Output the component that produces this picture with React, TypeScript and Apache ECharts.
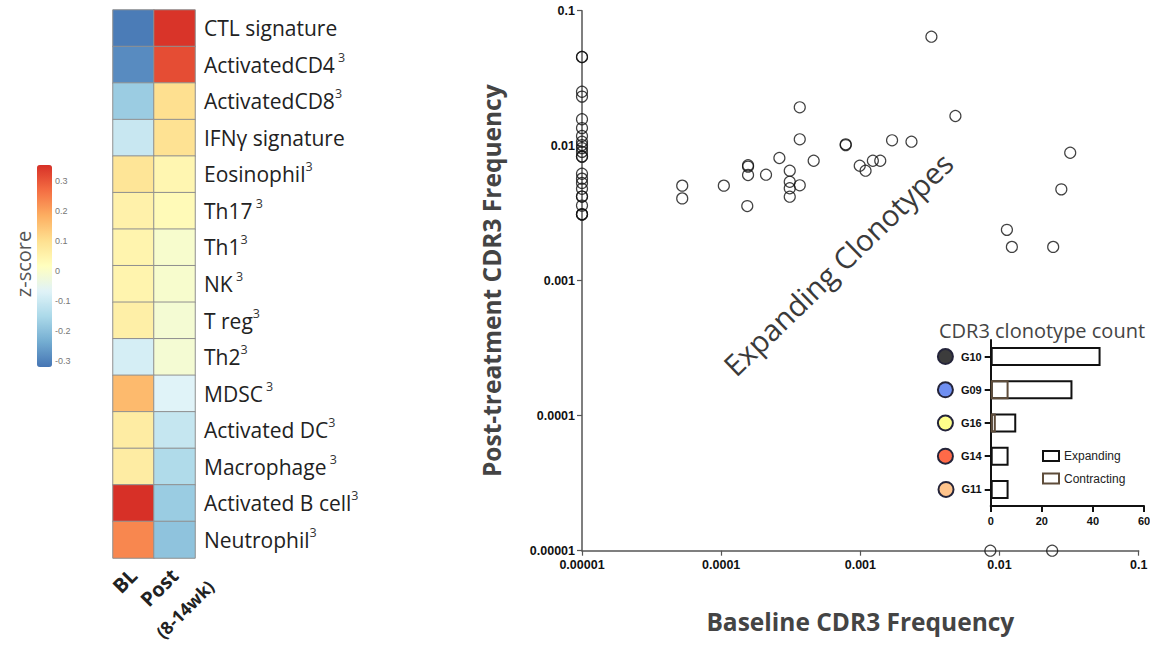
import React, { useEffect, useRef } from 'react';
import * as echarts from 'echarts';

// ---------- Heatmap data ----------
const rowLabels = [
  'CTL signature', 'ActivatedCD4', 'ActivatedCD8', 'IFNγ signature', 'Eosinophil',
  'Th17', 'Th1', 'NK', 'T reg', 'Th2', 'MDSC', 'Activated DC', 'Macrophage',
  'Activated B cell', 'Neutrophil',
];
const rowSup = ['', ' 3', '3', '', '3', ' 3', '3', ' 3', '3', '3', ' 3', '3', ' 3', '3', '3'];
const heatmapColumns = ['BL', 'Post'];
const heatmapColumnSub = ['', '(8-14wk)'];
const blValues = [-0.33, -0.306, -0.195, -0.123, 0.072, 0.038, 0.03, 0.03, 0.043, -0.102, 0.149, 0.051, 0.051, 0.34, 0.221];
const postValues = [0.335, 0.3, 0.085, 0.08, 0.026, 0.013, -0.021, -0.021, -0.03, -0.03, -0.085, -0.128, -0.162, -0.196, -0.213];
const colorbarTicks = [0.3, 0.2, 0.1, 0, -0.1, -0.2, -0.3];
const zColors = ['#4575b4', '#74add1', '#abd9e9', '#e0f3f8', '#ffffbf', '#fee090', '#fdae61', '#f46d43', '#d73027'];

// ---------- Scatter data ----------
const baselineFreq = [
  1e-5, 1e-5, 1e-5, 1e-5, 1e-5, 1e-5, 1e-5, 1e-5, 1e-5, 1e-5, 1e-5, 1e-5, 1e-5, 1e-5, 1e-5,
  1e-5, 1e-5, 1e-5, 1e-5, 1e-5, 1e-5, 1e-5, 1e-5,
  5.25e-5, 5.25e-5, 1.045e-4, 1.56e-4, 1.56e-4, 1.56e-4, 1.54e-4, 2.1e-4, 2.62e-4,
  3.67e-4, 3.67e-4, 3.11e-4, 3.11e-4, 3.11e-4, 3.11e-4, 3.67e-4, 4.62e-4,
  7.85e-4, 7.85e-4, 9.9e-4, 1.09e-3, 1.23e-3, 1.39e-3, 1.69e-3, 2.33e-3, 3.24e-3, 4.82e-3,
  0.0322, 0.0278, 0.0113, 0.01227, 0.0243, 0.00859, 0.0239,
];
const postFreq = [
  0.0454, 0.0454, 0.0251, 0.0231, 0.0157, 0.0135, 0.0118, 0.0107, 0.0101, 0.0096, 0.009, 0.0083,
  0.0083, 0.0062, 0.0057, 0.0053, 0.0048, 0.0042, 0.0042, 0.0036, 0.0031, 0.0031, 0.0031,
  5.06e-3, 4.07e-3, 5.06e-3, 7.16e-3, 7.0e-3, 6.07e-3, 3.57e-3, 6.1e-3, 8.11e-3,
  0.01925, 0.01115, 6.53e-3, 5.41e-3, 4.84e-3, 4.19e-3, 5.09e-3, 7.74e-3,
  0.01024, 0.0101, 7.11e-3, 6.53e-3, 7.74e-3, 7.74e-3, 0.01096, 0.01071, 0.0642, 0.0166,
  8.87e-3, 4.75e-3, 2.38e-3, 1.78e-3, 1.78e-3, 1e-5, 1e-5,
];
const freqTickLabels = ['0.00001', '0.0001', '0.001', '0.01', '0.1'];

// ---------- Inset data ----------
const groups = ['G10', 'G09', 'G16', 'G14', 'G11'];
const groupColors = ['#3c3c3c', '#6f8ff2', '#ffff8a', '#ff6a48', '#ffc48c'];
const expandingCounts = [43, 32, 10, 7, 7];
const contractingCounts: (number | string)[] = ['-', 7, 2, '-', '-'];
const insetTicks = [0, 20, 40, 60];

const LBL_FONT = 'Liberation Sans, Arial, sans-serif';
const SANS = 'Open Sans, Noto Sans, sans-serif';

function freqLabel(v: number) {
  const i = Math.round(Math.log10(v)) + 5;
  return freqTickLabels[i] ?? '';
}

export default function App() {
  const ref = useRef<HTMLDivElement>(null);
  useEffect(() => {
    if (!ref.current) return;
    const chart = echarts.init(ref.current, undefined, { renderer: 'svg' });

    const heatData: number[][] = [];
    rowLabels.forEach((_, r) => {
      heatData.push([0, r, blValues[r]]);
      heatData.push([1, r, postValues[r]]);
    });
    const scatterData = baselineFreq.map((x, i) => [x, postFreq[i]]);

    const dotRich: Record<string, any> = {};
    groupColors.forEach((c, i) => {
      dotRich['d' + i] = {
        width: 13, height: 13, borderRadius: 9, backgroundColor: c,
        borderColor: '#24243a', borderWidth: 2,
      };
    });

    const scatterAxisCommon = {
      type: 'log' as const,
      logBase: 10,
      min: 1e-5,
      max: 0.1,
      axisLine: { show: true, lineStyle: { color: '#555', width: 1.5 } },
      axisTick: { show: true, length: 5, lineStyle: { color: '#555', width: 1.2 } },
      axisLabel: {
        formatter: (v: number) => freqLabel(v),
        fontSize: 12.5, fontWeight: 'bold' as const, color: '#111', fontFamily: LBL_FONT,
      },
      splitLine: { show: false },
      minorTick: { show: false },
      nameLocation: 'middle' as const,
      nameTextStyle: { fontSize: 24.5, fontWeight: 'bold' as const, color: '#444', fontFamily: SANS },
    };

    const colLabelRotate = 45;

    chart.setOption({
      animation: false,
      backgroundColor: '#fff',
      grid: [
        { left: 582, top: 10.7, right: 11.3, bottom: 102.3, outerBoundsMode: 'none' },
        { left: 52, top: 181, width: 1, height: 180, outerBoundsMode: 'none' },
        { left: 113, top: 10, width: 82, height: 548, outerBoundsMode: 'none' },
        { left: 990.7, top: 340, right: 6, bottom: 147, outerBoundsMode: 'none' },
      ],
      xAxis: [
        { ...scatterAxisCommon, gridIndex: 0, name: 'Baseline CDR3 Frequency', nameGap: 58,
          axisLabel: { ...scatterAxisCommon.axisLabel, margin: 8 } },
        { type: 'value', gridIndex: 1, show: false },
        {
          type: 'category', gridIndex: 2, data: heatmapColumns, position: 'bottom',
          axisLine: { show: false }, axisTick: { show: false },
          axisLabel: {
            interval: 0, rotate: colLabelRotate, margin: 14, align: 'right', verticalAlign: 'middle',
            fontSize: 20, fontWeight: 'bold', color: '#222', fontFamily: SANS,
          },
        },
        {
          type: 'category', gridIndex: 2, data: heatmapColumns, position: 'bottom', offset: 0,
          axisLine: { show: false }, axisTick: { show: false },
          axisLabel: {
            interval: 0, rotate: colLabelRotate, margin: -11, align: 'right', verticalAlign: 'top',
            lineHeight: 102,
            formatter: (_v: string, i: number) => heatmapColumnSub[i],
            fontSize: 17.5, fontWeight: 'bold', color: '#222', fontFamily: SANS,
          },
        },
        {
          type: 'value', gridIndex: 3, min: 0, max: 60, interval: 20,
          axisLine: { show: true, lineStyle: { color: '#111', width: 2 } },
          axisTick: { show: true, length: 6, lineStyle: { color: '#111', width: 2 } },
          axisLabel: {
            fontSize: 11, fontWeight: 'bold', color: '#111', fontFamily: LBL_FONT, margin: 9,
            formatter: (v: number) => (insetTicks.includes(v) ? String(v) : ''),
          },
          splitLine: { show: false },
        },
      ],
      yAxis: [
        { ...scatterAxisCommon, gridIndex: 0, name: 'Post-treatment CDR3 Frequency', nameGap: 78,
          axisLabel: { ...scatterAxisCommon.axisLabel, margin: 7 } },
        {
          type: 'value', gridIndex: 1, min: -0.3, max: 0.3, interval: 0.1, position: 'right',
          axisLine: { show: false }, axisTick: { show: false }, splitLine: { show: false },
          axisLabel: {
            margin: 2, fontSize: 9, color: '#777', fontFamily: LBL_FONT,
            formatter: (v: number) => {
              const r = Math.round(v * 10) / 10;
              return colorbarTicks.includes(r) ? String(r) : '';
            },
          },
        },
        {
          type: 'category', gridIndex: 2, data: rowLabels, inverse: true, position: 'right',
          axisLine: { show: false }, axisTick: { show: false },
          axisLabel: {
            interval: 0, margin: 9, align: 'left',
            formatter: (v: string, i: number) => `{n|${v}}{s|${rowSup[i]}}`,
            rich: {
              n: { fontSize: 21, color: '#222', fontFamily: SANS, lineHeight: 28 },
              s: { fontSize: 12.5, color: '#333', fontFamily: SANS, lineHeight: 15, verticalAlign: 'top' },
            },
          },
        },
        {
          type: 'category', gridIndex: 3, data: groups, inverse: true,
          axisLine: { show: true, lineStyle: { color: '#111', width: 2 } },
          axisTick: { show: true, length: 6, alignWithLabel: true, lineStyle: { color: '#111', width: 2 } },
          axisLabel: {
            interval: 0, margin: 9,
            formatter: (v: string, i: number) => `{d${i}|}{sp|}{t|${v}}`,
            rich: {
              ...dotRich,
              sp: { width: 9 },
              t: { fontSize: 11, fontWeight: 'bold', color: '#111', fontFamily: LBL_FONT },
            },
          },
        },
      ],
      visualMap: {
        type: 'continuous',
        min: -0.34, max: 0.34,
        seriesIndex: 1,
        left: 37, top: 165,
        itemWidth: 15, itemHeight: 202,
        padding: 0,
        calculable: false,
        text: ['', ''],
        showLabel: false,
        inRange: { color: zColors },
      },
      legend: {
        orient: 'vertical',
        left: 1042, top: 450,
        padding: 0,
        itemWidth: 16, itemHeight: 10, itemGap: 10.5,
        textStyle: { fontSize: 12, color: '#222', fontFamily: LBL_FONT },
        data: [
          { name: 'Expanding', icon: 'rect', itemStyle: { color: '#fff', borderColor: '#111', borderWidth: 2 } },
          { name: 'Contracting', icon: 'rect', itemStyle: { color: '#fff', borderColor: '#5e4c3a', borderWidth: 2 } },
        ],
      },
      series: [
        {
          type: 'scatter', xAxisIndex: 0, yAxisIndex: 0, data: scatterData,
          symbol: 'circle', symbolSize: 11, clip: false,
          itemStyle: { color: 'rgba(255,255,255,0)', borderColor: '#111', borderWidth: 1.2 },
        },
        {
          type: 'heatmap', xAxisIndex: 2, yAxisIndex: 2, data: heatData,
          itemStyle: { borderColor: '#8f8f8f', borderWidth: 1 },
        },
        {
          name: 'Expanding', type: 'bar', xAxisIndex: 4, yAxisIndex: 3, data: expandingCounts,
          barWidth: 19,
          itemStyle: { color: 'rgba(255,255,255,0)', borderColor: '#111', borderWidth: 2 },
        },
        {
          name: 'Contracting', type: 'bar', xAxisIndex: 4, yAxisIndex: 3, data: contractingCounts,
          barWidth: 19, barGap: '-100%',
          itemStyle: { color: 'rgba(255,255,255,0)', borderColor: '#5e4c3a', borderWidth: 2 },
        },
      ],
      graphic: [
        {
          type: 'text', x: 23, y: 264, rotation: Math.PI / 2,
          style: { text: 'z-score', fontSize: 20, fontFamily: SANS, fill: '#555', align: 'center', verticalAlign: 'middle' },
        },
        {
          type: 'text', x: 838, y: 264, rotation: (44 * Math.PI) / 180,
          style: { text: 'Expanding Clonotypes', fontSize: 29.5, fontFamily: SANS, fill: '#3a3a3a', align: 'center', verticalAlign: 'middle' },
        },
        {
          type: 'text', x: 1042, y: 330,
          style: { text: 'CDR3 clonotype count', fontSize: 20, fontFamily: SANS, fill: '#444', align: 'center', verticalAlign: 'middle' },
        },
      ],
    });
    return () => chart.dispose();
  }, []);
  return (
    <div
      ref={ref}
      style={{ position: 'absolute', left: 0, top: 0, width: 1150, height: 653 }}
    />
  );
}
